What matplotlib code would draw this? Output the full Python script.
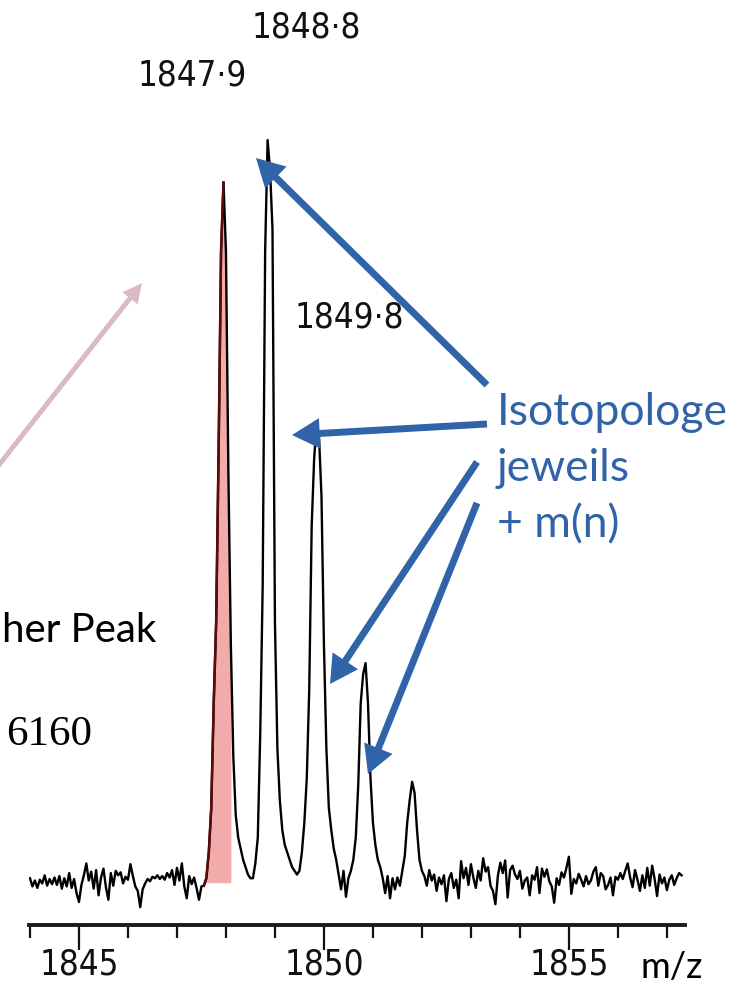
import numpy as np
import matplotlib.pyplot as plt
from matplotlib.patches import FancyArrowPatch

# === DATA ===
MZ_START = 1844.0
MZ_STEP = 0.05

# baseline noise left of the cluster, 1844.00 .. 1847.50
NOISE_LEFT = [0.5, -0.6, 0.2, -0.8, 0.3, -0.2, 0.9, -0.5, 0.4, -0.3,
              0.6, -0.4, 0.8, -0.9, 0.5, -0.6, 1.2, -0.8, 0.4, -1.5,
              -2.7, -0.4, 0.9, 2.5, 0.2, 1.4, -0.9, 1.6, -1.8, 0.6,
              1.8, -0.7, -2.4, 1.2, -0.5, 1.5, 0.9, 1.3, -0.2, 0.7,
              0.3, 2.4, 0.8, -0.6, -1.2, -3.4, -1.0, -0.2, 0.4, 0.1,
              0.7, 0.5, 0.9, 0.4, 0.8, 0.3, 1.2, 0.6, 1.6, -0.4,
              1.9, 0.2, 2.5, -0.6, -2.2, 0.8, -0.3, 0.6, -0.8, -2.4,
              -0.6]

# isotope cluster, 1847.55 .. 1852.00
CLUSTER = [-0.5, 0.5, 4, 10, 24, 35, 58, 85, 94.3,
           85, 55, 32, 17, 9, 6, 4.5, 3, 2, 1,
           0.5, 0.5, 2.5, 6, 20, 40, 85, 100, 96, 88,
           35, 18, 11, 7, 5, 4, 3, 2, 1.5, 1,
           1.5, 4, 8, 14, 26, 48, 57, 61.9, 60, 52,
           32, 18, 10, 7, 4.5, 3, 1, -1, 1.5, -2,
           0.5, 1.5, 3, 6, 13, 24, 28, 29.5, 24, 14,
           8, 5, 3, 2, 0.5, -1.5, 0.8, -2.2, 0.5, -1,
           0.6, -0.5, 1.5, 3.5, 8, 11, 13.5, 12, 7, 3,
           1.5]

# baseline noise right of the cluster, 1852.05 .. 1857.30
NOISE_RIGHT = [0.8, -0.5, 1.6, 0.2, 1.0, -1.2, 0.6, -0.3, 0.9, -2.6,
               0.4, 1.2, -0.8, 0.3, -2.2, 2.8, 0.5, 1.9, -0.4, 2.4,
               0.6, -0.8, 1.5, 0.2, 3.2, 1.4, 2.0, -0.5, -1.2, -3.0,
               0.8, 2.6, 1.2, 2.9, -2.1, 1.6, 2.2, 1.0, 0.4, 1.5,
               -0.9, 0.2, 0.6, -1.8, 0.9, 0.3, 2.0, -1.5, 1.8, 0.7,
               1.7, 0.1, -0.6, -2.8, 0.5, -0.4, 1.3, 0.6, 1.9, 3.4,
               -1.6, 0.4, -0.2, 1.1, 0.3, -0.6, 0.8, -0.3, 0.2, 1.4,
               2.0, -0.5, 1.2, 0.8, -1.0, -0.4, 0.6, -1.8, 0.7, 0.3,
               1.2, 0.4, 1.5, 2.5, 0.6, -0.7, 1.6, 0.3, -1.2, 0.9,
               -0.8, 1.9, -0.5, 2.2, 0.4, -1.9, 1.0, -0.2, 0.6, -1.1,
               0.3, 0.9, -0.4, 0.5, 1.2, 0.9]

assert len(NOISE_LEFT) == 71 and len(CLUSTER) == 90

PEAK_LABELS = ["1847\u00b79", "1848\u00b78", "1849\u00b78"]
MAJOR_TICKS = [1845, 1850, 1855]
MINOR_TICKS = list(range(1844, 1858))
MONO_RANGE = (1847.55, 1848.12)

intensity = np.array(NOISE_LEFT + CLUSTER + NOISE_RIGHT)
mz = MZ_START + MZ_STEP * np.arange(len(intensity))

# === FIGURE ===
W, H = 749, 988
BLUE = "#3163a8"
PINK = "#dcbac4"
NARROW = ["DejaVu Sans Condensed", "DejaVu Sans"]
SANS = ["Lato", "DejaVu Sans"]


def fpos(px, py):
    # pixel from top-left -> figure fraction
    return (px / W, 1 - py / H)


fig = plt.figure(figsize=(W / 100, H / 100), dpi=100)
ax = fig.add_axes([29 / W, 1 - 925 / H, (685 - 29) / W, (925 - 100) / H])
ax.set_xlim(1843.98, 1857.37)
ax.set_ylim(-5.8, 105.4)

sel = (mz >= MONO_RANGE[0]) & (mz <= MONO_RANGE[1])
ax.fill_between(mz, -0.1, intensity, where=sel, color="#f2abab", lw=0, zorder=1)
ax.plot(mz, intensity, color="black", lw=1.7, zorder=2)
left = (mz >= MONO_RANGE[0]) & (mz <= 1847.96)
ax.plot(mz[left], intensity[left], color="#5c0a0a", lw=1.8, zorder=3)

for s in ["top", "right", "left"]:
    ax.spines[s].set_visible(False)
ax.spines["bottom"].set_linewidth(2.8)
ax.spines["bottom"].set_color("#1a1a1a")
ax.set_yticks([])
ax.set_xticks(MAJOR_TICKS)
ax.set_xticks(MINOR_TICKS, minor=True)
ax.tick_params(axis="x", which="major", length=18, width=1.6, direction="out",
               pad=-2, labelsize=25, colors="#111111")
ax.tick_params(axis="x", which="minor", length=9, width=1.6, colors="#111111")
for lab in ax.get_xticklabels():
    lab.set_fontfamily(NARROW)
    lab.set_fontstretch("condensed")
ax.patch.set_alpha(0)

# peak labels
label_px = [(192, 76), (306, 27), (349, 318)]
for (px, py), txt in zip(label_px, PEAK_LABELS):
    fig.text(*fpos(px, py), txt, ha="center", va="center", fontsize=25,
             family=NARROW, stretch="condensed", color="#111111")

fig.text(*fpos(672, 967), "m/z", ha="center", va="center", fontsize=26,
         family=SANS, color="black")

# annotation text
for txt, base in [("Isotopologe", 425), ("jeweils", 481), ("+ m(n)", 537)]:
    fig.text(*fpos(497, base), txt, ha="left", va="baseline", fontsize=32,
             family=SANS, color=BLUE)
fig.text(*fpos(2, 642), "her Peak", ha="left", va="baseline", fontsize=29,
         family=SANS, color="black")
fig.text(*fpos(6, 745), "6160", ha="left", va="baseline", fontsize=31,
         family=["Liberation Serif", "DejaVu Serif"], color="black")


def arrow(p0, p1, color, tail, hl, hw):
    a = FancyArrowPatch(fpos(*p0), fpos(*p1), transform=fig.transFigure,
                        arrowstyle=f"simple,head_length={hl},head_width={hw},tail_width={tail}",
                        mutation_scale=1, color=color, lw=0,
                        shrinkA=0, shrinkB=0)
    fig.add_artist(a)


arrow((-5, 470), (142, 283), PINK, 3.6, 14, 14)
arrow((487, 385), (256, 158), BLUE, 5, 20, 22)
arrow((487, 424), (292, 435), BLUE, 5, 20, 22)
arrow((477, 462), (330, 684), BLUE, 5, 20, 22)
arrow((477, 503), (368, 774), BLUE, 5, 20, 22)

fig.savefig("out.png", dpi=100)
